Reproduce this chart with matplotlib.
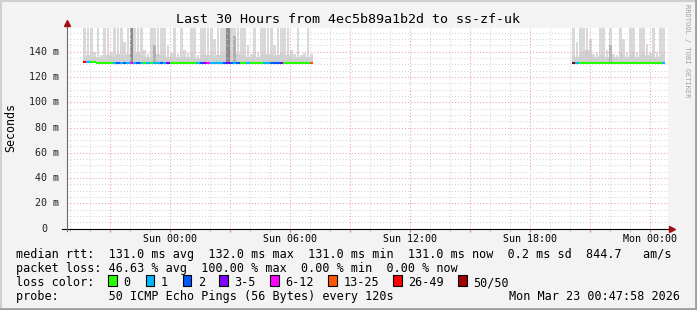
import numpy as np
import matplotlib
matplotlib.use("Agg")
import matplotlib.pyplot as plt
import matplotlib.transforms as mtransforms
from matplotlib.patches import Rectangle
from matplotlib.lines import Line2D
from matplotlib.ticker import MultipleLocator, FuncFormatter

W, H = 697, 310
MONO = "DejaVu Sans Mono"
STEP = 1 / 6  # one bin = 10 minutes, in hours

TITLE = "Last 30 Hours from 4ec5b89a1b2d to ss-zf-uk"
Y_LABEL = "Seconds"

# hours relative to Sun 00:00
seg1_start = -4.35
seg1_median = [132, 132, 132, 132, 131, 131, 131, 131, 131, 131,
               131, 131, 131, 131, 131, 131, 131, 131, 131, 131,
               131, 131, 131, 131, 131, 131, 131, 131, 131, 131,
               131, 131, 131, 131, 131, 131, 131, 131, 131, 131,
               131, 131, 131, 131, 131, 131, 131, 131, 131, 131,
               131, 131, 131, 131, 131, 131, 131, 131, 131, 131,
               131, 131, 131, 131, 131, 131, 131, 131, 131]
seg1_loss = [30, 1, 0, 0, 0, 0, 0, 0, 0, 1,
             2, 1, 2, 1, 8, 1, 2, 1, 0, 1,
             0, 1, 1, 2, 1, 4, 0, 0, 0, 0,
             0, 0, 0, 0, 1, 2, 4, 8, 1, 1,
             1, 1, 2, 4, 2, 1, 2, 0, 0, 1,
             0, 0, 0, 0, 1, 1, 2, 2, 2, 4,
             0, 0, 0, 0, 0, 0, 0, 0, 15]
seg1_hi = [159, 159, 159, 140, 159, 137, 159, 159, 140, 159,
           159, 159, 148, 159, 159, 159, 159, 159, 141, 138,
           159, 159, 159, 159, 159, 145, 139, 159, 138, 159,
           141, 139, 159, 159, 137, 159, 159, 159, 159, 150,
           159, 159, 159, 159, 159, 159, 159, 159, 159, 145,
           138, 159, 140, 159, 159, 159, 159, 145, 159, 159,
           159, 159, 141, 138, 159, 137, 139, 159, 138]
seg1_mid = [136, 137, 136, 136, 136, 135, 136, 137, 136, 136,
            138, 137, 136, 138, 159, 137, 139, 137, 136, 136,
            137, 145, 138, 137, 137, 136, 136, 137, 136, 136,
            136, 136, 139, 136, 135, 137, 138, 137, 137, 136,
            137, 138, 137, 159, 139, 152, 138, 137, 137, 136,
            136, 137, 136, 137, 138, 138, 137, 136, 137, 139,
            137, 137, 136, 136, 136, 136, 136, 136, 136]

seg2_start = 20.1
seg2_median = [131, 131, 131, 131, 131, 131, 131, 131, 131, 131,
               131, 131, 131, 131, 131, 131, 131, 131, 131, 131,
               131, 131, 131, 131, 131, 131, 131, 131]
seg2_loss = [50, 1, 0, 0, 0, 0, 0, 0, 0, 0,
             0, 0, 0, 0, 0, 0, 0, 0, 0, 0,
             0, 0, 0, 0, 0, 0, 0, 1]
seg2_hi = [159, 148, 159, 159, 159, 150, 138, 139, 159, 159,
           141, 159, 138, 137, 159, 150, 140, 159, 159, 140,
           159, 159, 146, 139, 159, 140, 159, 159]
seg2_mid = [137, 136, 138, 139, 141, 138, 136, 136, 137, 137,
            136, 145, 136, 136, 139, 137, 136, 137, 140, 136,
            137, 138, 137, 136, 137, 136, 137, 138]

# loss colour legend
loss_edges = [0, 1, 2, 3, 6, 13, 26, 50]
loss_names = ["0", "1", "2", "3-5", "6-12", "13-25", "26-49", "50/50"]
loss_colors = ["#26ff00", "#00b8ff", "#0059ff", "#7e00ff",
               "#ff00ff", "#ff5500", "#ff0000", "#a10000"]

y_ticks = [0, 20, 40, 60, 80, 100, 120, 140]
x_label_hours = [0, 6, 12, 18, 24]
x_labels = ["Sun 00:00", "Sun 06:00", "Sun 12:00", "Sun 18:00", "Mon 00:00"]

legend_lines = [
    "median rtt:  131.0 ms avg  132.0 ms max  131.0 ms min  131.0 ms now  0.2 ms sd  844.7   am/s",
    "packet loss: 46.63 % avg  100.00 % max  0.00 % min  0.00 % now",
    "loss color:",
    "probe:       50 ICMP Echo Pings (56 Bytes) every 120s",
]
stamp = "Mon Mar 23 00:47:58 2026"


def loss_color(n):
    idx = 0
    for i, e in enumerate(loss_edges):
        if n >= e:
            idx = i
    return loss_colors[idx]


def mid_shade(m):
    if m >= 155:
        return "#8c8c8c"
    if m >= 144:
        return "#b0b0b0"
    return "#d0d0d0"


def draw_segment(ax, start, med, loss, hi, mid):
    med = np.asarray(med, float)
    hi = np.asarray(hi, float)
    mid = np.asarray(mid, float)
    t = start + np.arange(len(med)) * STEP
    # smoke
    ax.bar(t + STEP * 0.12, hi - med, bottom=med, width=STEP * 0.76, align="edge",
           color="#d9d9d9", lw=0, zorder=1)
    ax.bar(t, mid - med, bottom=med, width=STEP, align="edge",
           color=[mid_shade(m) for m in mid], lw=0, zorder=1.1)
    # median coloured by loss
    ax.hlines(med, t, t + STEP, colors=[loss_color(n) for n in loss], lw=1.5, zorder=4)


fig = plt.figure(figsize=(W / 100, H / 100), dpi=100, facecolor="#f3f3f3")
ax = fig.add_axes([67 / W, 1 - 228.7 / H, 601 / W, 200.7 / H], facecolor="white")

draw_segment(ax, seg1_start, seg1_median, seg1_loss, seg1_hi, seg1_mid)
draw_segment(ax, seg2_start, seg2_median, seg2_loss, seg2_hi, seg2_mid)

ax.set_xlim(-5.15, 24.9)
ax.set_ylim(0, 158.7)
for s in ax.spines.values():
    s.set_visible(False)

ax.xaxis.set_major_locator(MultipleLocator(3))
ax.xaxis.set_minor_locator(MultipleLocator(1))
ax.yaxis.set_major_locator(MultipleLocator(20))
ax.yaxis.set_minor_locator(MultipleLocator(5))
ax.set_axisbelow(False)
ax.grid(which="major", color="#f2a0a0", lw=0.75, ls=(0, (1, 2)), zorder=2)
ax.grid(which="minor", color="#d4d4d4", lw=0.75, ls=(0, (1, 2)), zorder=2)

lab_map = dict(zip(x_label_hours, x_labels))
ax.xaxis.set_major_formatter(FuncFormatter(lambda v, p: lab_map.get(int(round(v)), "")))
ax.tick_params(axis="x", which="major", direction="out", length=2.5, width=0.75,
               color="#e08080", pad=1.5, labelsize=7.2)
ax.tick_params(axis="x", which="minor", direction="out", length=2, width=0.75, color="#c8c8c8")
ax.tick_params(axis="y", which="both", length=0, labelleft=False)
for lab in ax.get_xticklabels():
    lab.set_family(MONO)

# y tick labels, RRD style
ytrans = mtransforms.blended_transform_factory(fig.transFigure, ax.transData)
for v in y_ticks:
    txt = f"{v} m" if v else "0"
    xr = 59 if v else 47
    fig.text(xr / W, v, txt, transform=ytrans, ha="right", va="center",
             fontsize=7.2, family=MONO, color="#222222")

# axis lines with arrows
ax.plot([-5 / 601, 1.005], [0, 0], transform=ax.transAxes, color="black", lw=0.8,
        clip_on=False, zorder=5)
ax.plot([1.006], [0], transform=ax.transAxes, marker=">", ms=4, color="#a01010",
        clip_on=False, zorder=6)
ax.plot([0, 0], [-2.5 / 200.7, 1.02], transform=ax.transAxes, color="#6a6a6a", lw=0.8,
        clip_on=False, zorder=5)
ax.plot([0], [1.025], transform=ax.transAxes, marker="^", ms=4, color="#a01010",
        clip_on=False, zorder=6)

# texts
fig.text(347.5 / W, 1 - 23 / H, TITLE, ha="center", va="baseline", fontsize=9.6, family=MONO)
fig.text(10.8 / W, 1 - 128 / H, Y_LABEL, rotation=90, ha="center", va="center",
         fontsize=8.4, family=MONO)
fig.text(687.5 / W, 1 - 4 / H, "RRDTOOL / TOBI OETIKER", rotation=270, ha="center", va="top",
         fontsize=5, family=MONO, color="#a0a0a0")

for i, line in enumerate(legend_lines):
    fig.text(16 / W, 1 - (258.3 + 14 * i) / H, line, ha="left", va="baseline",
             fontsize=8.5, family=MONO)
fig.text(680 / W, 1 - 300.3 / H, stamp, ha="right", va="baseline", fontsize=8.5, family=MONO)

box_x = [108.3, 145.7, 182.7, 219.3, 270, 328.3, 393.3, 458.3]
for bx, name, col in zip(box_x, loss_names, loss_colors):
    fig.add_artist(Rectangle((bx / W, 1 - 286 / H), 8.5 / W, 11 / H, transform=fig.transFigure,
                             facecolor=col, edgecolor="black", lw=0.8))
    fig.text((bx + 15) / W, 1 - 286.3 / H, name, ha="left", va="baseline", fontsize=8.5,
             family=MONO)

# 3d frame
fig.add_artist(Line2D([0, 1], [1 - 1 / H, 1 - 1 / H], transform=fig.transFigure, color="#cfcfcf", lw=1.5))
fig.add_artist(Line2D([1 / W, 1 / W], [0, 1], transform=fig.transFigure, color="#cfcfcf", lw=1.5))
fig.add_artist(Line2D([0, 1], [1.5 / H, 1.5 / H], transform=fig.transFigure, color="#9e9e9e", lw=2))
fig.add_artist(Line2D([1 - 1.5 / W, 1 - 1.5 / W], [0, 1], transform=fig.transFigure, color="#9e9e9e", lw=2))

fig.savefig("out.png", dpi=100, facecolor=fig.get_facecolor())
